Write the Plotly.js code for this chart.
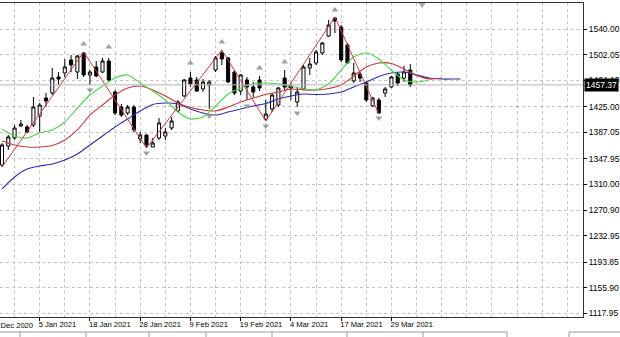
<!DOCTYPE html>
<html><head><meta charset="utf-8">
<script src="https://cdn.plot.ly/plotly-3.0.1.min.js"></script>
<style>html,body{margin:0;padding:0;background:#fff;overflow:hidden}#chart{width:620px;height:337px}</style>
</head><body><div id="chart"></div>
<script>
// ---- candles (daily bars, index 0..65) ----
const openVals  = [1338.3,1366.6,1378.5,1396.3,1394.8,1397.8,1411.2,1437.9,1445.3,1469.1,1475.1,1494.4,1476.5,1504.8,1472.1,1484.0,1476.5,1492.9,1446.8,1424.5,1415.6,1424.5,1377.0,1382.9,1365.1,1378.5,1381.4,1393.3,1418.6,1440.9,1467.6,1464.7,1451.3,1457.2,1479.5,1504.8,1497.4,1476.5,1448.3,1464.7,1454.3,1464.7,1406.7,1421.6,1427.5,1467.6,1452.8,1432.0,1451.3,1482.5,1489.9,1504.8,1530.0,1556.8,1543.4,1516.7,1463.2,1473.6,1460.2,1426.0,1434.9,1445.3,1454.3,1473.6,1467.6,1479.5];
const highVals  = [1371.0,1382.9,1397.8,1405.2,1397.8,1439.4,1430.5,1445.3,1482.5,1476.5,1495.9,1501.8,1501.8,1506.3,1479.5,1492.9,1497.4,1497.4,1449.8,1429.0,1427.5,1427.5,1387.4,1384.4,1378.5,1408.2,1393.3,1409.7,1434.9,1466.1,1476.5,1469.1,1466.1,1464.7,1500.3,1509.2,1498.8,1479.5,1473.6,1469.1,1461.7,1470.6,1434.9,1445.3,1454.3,1479.5,1460.2,1454.3,1486.9,1497.4,1509.2,1521.1,1553.8,1558.3,1546.4,1519.6,1489.9,1476.5,1461.7,1439.4,1437.9,1454.3,1470.6,1476.5,1485.5,1488.4];
const lowVals   = [1335.4,1360.6,1375.5,1394.8,1385.9,1394.8,1387.4,1424.5,1442.4,1457.2,1469.1,1476.5,1466.1,1469.1,1457.2,1469.1,1475.1,1461.7,1412.6,1409.7,1412.6,1387.4,1371.0,1363.6,1365.1,1375.5,1375.5,1390.4,1417.1,1439.4,1454.3,1446.8,1446.8,1421.6,1476.5,1486.9,1460.2,1442.4,1442.4,1434.9,1439.4,1448.3,1403.7,1417.1,1424.5,1449.8,1434.9,1424.5,1449.8,1472.1,1486.9,1501.8,1528.6,1534.5,1491.4,1488.4,1460.2,1461.7,1432.0,1424.5,1414.1,1439.4,1452.8,1455.7,1461.7,1454.3];
const closeVals = [1368.1,1380.0,1393.3,1399.3,1387.4,1424.5,1427.5,1433.4,1467.6,1466.1,1484.0,1486.9,1500.3,1472.1,1476.5,1470.6,1492.9,1464.7,1415.6,1412.6,1424.5,1390.4,1382.9,1368.1,1371.0,1400.8,1387.4,1403.7,1432.0,1464.7,1458.7,1448.3,1461.7,1461.7,1497.4,1495.9,1461.7,1445.3,1472.1,1454.3,1446.8,1452.8,1414.1,1442.4,1452.8,1454.3,1455.7,1446.8,1484.0,1488.4,1506.3,1519.6,1546.4,1552.3,1494.4,1489.9,1475.1,1467.6,1434.9,1437.9,1415.6,1451.3,1469.1,1460.2,1476.5,1457.37];

// ---- Alligator lines (read every 2 bars; shifted into the future) ----
const jawBars   = [0,2,4,6,8,10,12,14,16,18,20,22,24,26,28,30,32,34,36,38,40,42,44,46,48,50,52,54,56,58,60,62,64,66,68,70,72,73];
const jawVals   = [1302.7,1320.5,1332.4,1336.9,1339.8,1345.8,1354.7,1368.1,1381.4,1394.8,1406.7,1418.6,1428.3,1430.5,1429.0,1421.6,1415.6,1412.6,1417.1,1421.6,1426.0,1429.7,1436.4,1440.9,1443.9,1443.1,1443.9,1446.8,1454.3,1461.7,1469.9,1475.1,1476.5,1472.1,1467.6,1466.1,1466.1,1466.1];
const teethBars = [0,2,4,6,8,10,12,14,16,18,20,22,24,26,28,30,32,34,36,38,40,42,44,46,48,50,52,54,56,58,60,62,64,66,68,70];
const teethVals = [1374.0,1368.1,1365.1,1365.1,1367.3,1375.5,1390.4,1412.6,1427.5,1442.4,1452.8,1455.7,1449.8,1440.9,1430.5,1423.8,1420.1,1418.6,1424.5,1432.0,1437.9,1443.1,1446.8,1451.3,1449.8,1449.8,1452.0,1457.2,1470.6,1484.0,1489.9,1489.2,1481.0,1471.3,1466.1,1467.6];
const lipsBars  = [0,2,4,6,8,10,12,14,16,18,20,22,24,26,28,30,32,34,36,38,40,42,44,46,48,50,52,54,56,58,60,62,64,66,68];
const lipsVals  = [1391.8,1381.4,1378.5,1385.9,1390.4,1402.2,1423.0,1442.4,1455.7,1467.6,1472.1,1460.2,1448.3,1434.9,1417.1,1406.7,1409.7,1426.0,1443.9,1452.8,1458.7,1460.2,1458.7,1455.7,1451.3,1449.8,1458.7,1479.5,1498.8,1504.8,1495.9,1479.5,1464.7,1461.7,1464.7];

// ---- ZigZag and Fractals ----
const zigBars   = [0,13,23,35,42,53,60];
const zigVals   = [1335.4,1506.3,1363.6,1509.2,1403.7,1558.3,1414.1];
const fracUpBars = [13,17,30,35,41,45,53];
const fracUpVals = [1518.2,1513.7,1489.9,1521.1,1482.5,1491.4,1568.7];
const fracDnBars = [14,23,33,39,42,47,60];
const fracDnVals = [1449.8,1356.2,1411.2,1426.0,1396.3,1415.6,1408.2];

// ---- axes ----
const yTickVals = [1540.00,1502.05,1464.10,1425.00,1387.05,1347.95,1310.00,1270.90,1232.95,1193.85,1155.90,1117.95];
const yTickText = ['1540.00','1502.05','1464.10','1425.00','1387.05','1347.95','1310.00','1270.90','1232.95','1193.85','1155.90','1117.95'];
const xTickBars = [6,14,22,30,38,46,54,62];
const xTickText = ['5 Jan 2021','18 Jan 2021','28 Jan 2021','9 Feb 2021','19 Feb 2021','4 Mar 2021','17 Mar 2021','29 Mar 2021'];
const firstLabel = '23 Dec 2020';

const barIdx = openVals.map((_, i) => i);
const FONT = 'Liberation Sans, Arial, sans-serif';
const XFONT = {family:FONT, size:7.6, color:'#000'};

const traces = [
  {type:'scatter', mode:'lines', x:jawBars, y:jawVals, line:{color:'#2e2ea8', width:1.1, shape:'spline', smoothing:0.7}, hoverinfo:'skip'},
  {type:'scatter', mode:'lines', x:teethBars, y:teethVals, line:{color:'#c03c3c', width:1.1, shape:'spline', smoothing:0.7}, hoverinfo:'skip'},
  {type:'scatter', mode:'lines', x:lipsBars, y:lipsVals, line:{color:'#4ed24e', width:1.1, shape:'spline', smoothing:0.7}, hoverinfo:'skip'},
  {type:'candlestick', x:barIdx, open:openVals, high:highVals, low:lowVals, close:closeVals,
   increasing:{line:{color:'#000', width:1}, fillcolor:'#ffffff'},
   decreasing:{line:{color:'#000', width:1}, fillcolor:'#000000'},
   whiskerwidth:0, hoverinfo:'skip'},
  {type:'scatter', mode:'lines', x:zigBars, y:zigVals, line:{color:'#c83c3c', width:1}, hoverinfo:'skip'},
  {type:'scatter', mode:'markers', x:fracUpBars, y:fracUpVals, marker:{symbol:'triangle-up', size:6, color:'#a0a0a0'}, hoverinfo:'skip'},
  {type:'scatter', mode:'markers', x:fracDnBars, y:fracDnVals, marker:{symbol:'triangle-down', size:6, color:'#a0a0a0'}, hoverinfo:'skip'}
];

const last = closeVals[closeVals.length - 1];
const gridStyle = {gridcolor:'#c4c4c4', griddash:'3px,3px', gridwidth:1};

// MT4 window tab strip under the chart (pixel positions -> paper units)
const PW = 583, PH = 314;
const px = v => v / PW, py = v => (317 - v) / PH;
const tabShapes = [
  {type:'line', xref:'paper', yref:'paper', x0:px(0), x1:px(507), y0:py(332), y1:py(332), line:{color:'#9a9a9a', width:1}},
  ...[20, 86, 149, 206, 272, 347, 423, 507].map(t => ({type:'line', xref:'paper', yref:'paper', x0:px(t), x1:px(t), y0:py(332), y1:py(338), line:{color:'#9a9a9a', width:1}})),
  {type:'rect', xref:'paper', yref:'paper', x0:px(569), x1:px(625), y0:py(332), y1:py(340), line:{color:'#9a9a9a', width:1}}
];

const layout = {
  width:620, height:337,
  margin:{l:0, r:37, t:3, b:20, pad:0},
  paper_bgcolor:'#ffffff', plot_bgcolor:'#ffffff',
  showlegend:false,
  font:{family:FONT, size:8.5, color:'#000'},
  xaxis:{
    range:[-0.32, 92.5], rangeslider:{visible:false},
    tickmode:'array', tickvals:xTickBars, ticktext:xTickText, tickangle:0,
    ticklabelposition:'outside right', ticklabelshift:-2, ticks:'outside', ticklen:3, tickcolor:'#000',
    showgrid:true, ...gridStyle,
    minor:{tickmode:'linear', tick0:2, dtick:4, showgrid:true, ...gridStyle, ticks:''},
    showline:true, linecolor:'#333', linewidth:1, mirror:true,
    zeroline:false, fixedrange:true,
    tickfont:XFONT
  },
  yaxis:{
    side:'right', range:[1112.45, 1579.08],
    tickmode:'array', tickvals:yTickVals, ticktext:yTickText,
    ticks:'outside', ticklen:3, tickcolor:'#000',
    showgrid:true, ...gridStyle,
    showline:true, linecolor:'#333', linewidth:1,
    zeroline:false, fixedrange:true,
    tickfont:{family:FONT, size:8.5, color:'#000'}
  },
  shapes:[
    {type:'line', xref:'paper', x0:0, x1:1, yref:'y', y0:last, y1:last, line:{color:'#b4b4b4', width:1}},
    {type:'path', xref:'paper', yref:'paper', path:'M 0.718 1 L 0.730 1 L 0.724 0.984 Z', fillcolor:'#a8a8a8', line:{width:0}},
    ...tabShapes
  ],
  annotations:[
    {xref:'paper', yref:'y', x:1, y:last, xanchor:'left', yanchor:'middle', xshift:1,
     text:last.toFixed(2), showarrow:false, bgcolor:'#000', font:{family:FONT, size:8.5, color:'#fff'}, borderpad:1},
    {xref:'x', yref:'paper', x:0, y:0, xanchor:'left', yanchor:'top', xshift:-14, yshift:-2,
     text:firstLabel, showarrow:false, font:XFONT}
  ]
};

Plotly.newPlot('chart', traces, layout, {staticPlot:true, displayModeBar:false});
</script></body></html>
